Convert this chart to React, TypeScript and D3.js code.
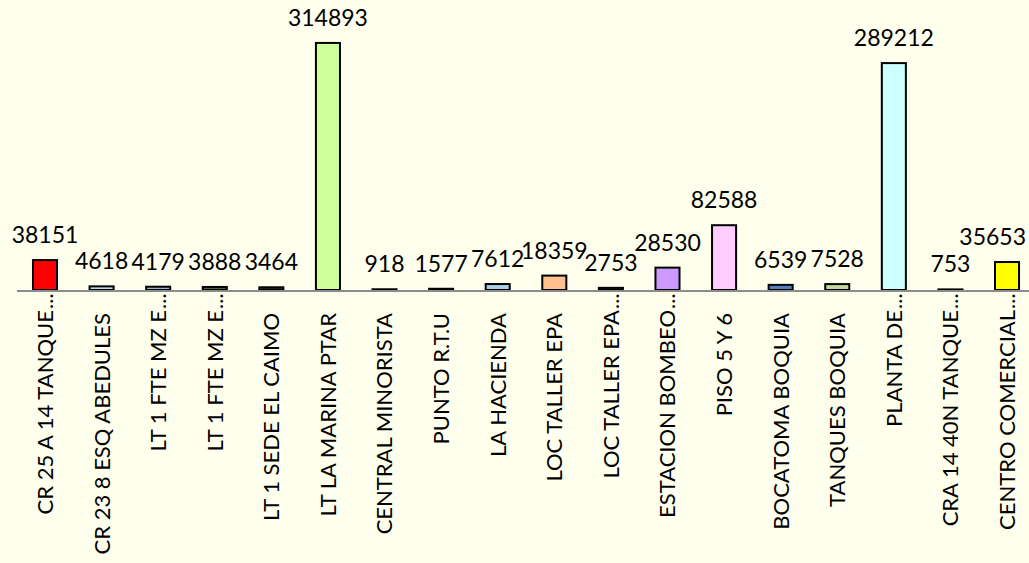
import React from "react";
import * as d3 from "d3";

const categories: string[] = [
  "CR 25 A 14 TANQUE...",
  "CR 23 8 ESQ ABEDULES",
  "LT 1 FTE MZ E...",
  "LT 1 FTE MZ E...",
  "LT 1 SEDE EL CAIMO",
  "LT LA MARINA PTAR",
  "CENTRAL MINORISTA",
  "PUNTO R.T.U",
  "LA HACIENDA",
  "LOC TALLER EPA",
  "LOC TALLER EPA...",
  "ESTACION BOMBEO...",
  "PISO 5 Y 6",
  "BOCATOMA BOQUIA",
  "TANQUES BOQUIA",
  "PLANTA DE...",
  "CRA 14 40N TANQUE...",
  "CENTRO COMERCIAL...",
];

const values: number[] = [
  38151, 4618, 4179, 3888, 3464, 314893, 918, 1577, 7612, 18359, 2753, 28530,
  82588, 6539, 7528, 289212, 753, 35653,
];

const colors: string[] = [
  "#FF0000", "#B7DDE8", "#93B3C5", "#4F6228", "#262626", "#CCFF99",
  "#808080", "#808080", "#A5D0E6", "#FFC08F", "#3A3A3A", "#CC99FF",
  "#FFCCFF", "#4F81BD", "#C3D69B", "#CCFFFF", "#808080", "#FFFF00",
];

const W = 1029;
const H = 563;
const FONT = "Lato, 'Open Sans', sans-serif";
const VAL_FS = 23;
const CAT_FS = 22;

export default function App() {
  const x = d3
    .scaleBand<number>()
    .domain(d3.range(categories.length))
    .range([16.7, 16.7 + 56.59 * categories.length])
    .paddingInner(0.575)
    .paddingOuter(0.2875);
  const y = d3.scaleLinear().domain([0, 350000]).range([290, 15.4]);
  const bw = x.bandwidth();

  return (
    <svg
      width={W}
      height={H}
      style={{ position: "absolute", left: 0, top: 0, background: "#FFFFEE" }}
      fontFamily={FONT}
    >
      <rect x={0} y={0} width={W} height={H} fill="#FFFFEE" />
      {values.map((v, i) => {
        const x0 = x(i)!;
        const yt = y(v);
        return (
          <rect
            key={"b" + i}
            x={x0}
            y={yt}
            width={bw}
            height={Math.max(y(0) - yt, 0.5)}
            fill={colors[i]}
            stroke="#000"
            strokeWidth={2}
          />
        );
      })}
      <line x1={17} x2={W} y1={291} y2={291} stroke="#8C8C8C" strokeWidth={2} />
      {values.map((v, i) => {
        const cx = x(i)! + bw / 2;
        const label = String(v);
        const estW = label.length * 0.58 * VAL_FS;
        const overflow = cx + estW / 2 > W - 3;
        return (
          <text
            key={"v" + i}
            x={overflow ? W - 3 : cx}
            y={y(v) - 17}
            textAnchor={overflow ? "end" : "middle"}
            fontSize={VAL_FS}
            fill="#000"
          >
            {label}
          </text>
        );
      })}
      {categories.map((c, i) => {
        const cx = x(i)! + bw / 2;
        const ell = c.endsWith("...");
        const main = ell ? c.slice(0, -3) : c;
        const yEnd = ell ? 310 : 313;
        return (
          <g key={"c" + i} transform={`translate(${cx},${yEnd}) rotate(-90)`}>
            <text textAnchor="end" dy="0.36em" fontSize={CAT_FS} fill="#000">
              {main}
            </text>
            {ell && (
              <text textAnchor="start" dy="0.36em" x={1} fontSize={CAT_FS} fill="#000">
                ...
              </text>
            )}
          </g>
        );
      })}
    </svg>
  );
}
